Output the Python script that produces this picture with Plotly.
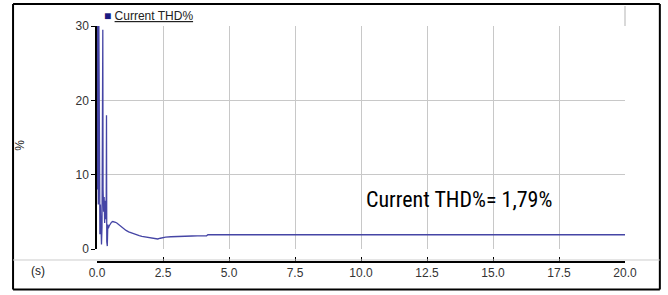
import plotly.graph_objects as go

# Time (s) and Current THD (%)
time_s = [0.00, 0.01, 0.03, 0.05, 0.07, 0.09, 0.11, 0.13, 0.15, 0.17, 0.19, 0.21, 0.22, 0.23,
          0.25, 0.27, 0.29, 0.31, 0.33, 0.35, 0.36, 0.37, 0.39, 0.41, 0.43, 0.46, 0.50, 0.55,
          0.60, 0.65, 0.70, 0.75, 0.82, 0.90, 1.00, 1.10, 1.20, 1.30, 1.40, 1.50, 1.60, 1.70,
          1.80, 1.90, 2.00, 2.10, 2.20, 2.30, 2.40, 2.50, 2.60, 2.80, 3.00, 3.20, 3.40, 3.60,
          3.80, 4.00, 4.15, 4.20, 5.00, 7.50, 10.0, 12.5, 15.0, 17.5, 20.0]
thd_pct = [31.0, 8.0, 31.0, 6.0, 30.5, 9.0, 2.0, 6.0, 1.0, 0.6, 3.0, 12.0, 29.5, 8.0,
           5.0, 7.0, 3.5, 6.5, 4.0, 7.0, 18.0, 1.0, 0.4, 3.3, 2.8, 3.1, 3.4, 3.6,
           3.7, 3.7, 3.6, 3.5, 3.3, 3.0, 2.7, 2.5, 2.3, 2.15, 2.0, 1.9, 1.8, 1.7,
           1.65, 1.55, 1.5, 1.4, 1.35, 1.35, 1.45, 1.55, 1.6, 1.65, 1.7, 1.72, 1.75, 1.75,
           1.76, 1.78, 1.78, 1.92, 1.92, 1.92, 1.92, 1.92, 1.92, 1.92, 1.92]

x_ticks = [0, 2.5, 5, 7.5, 10, 12.5, 15, 17.5, 20]
y_ticks = [0, 10, 20, 30]

fig = go.Figure()
fig.add_trace(go.Scatter(x=time_s, y=thd_pct, mode="lines", name="Current THD%",
                         line=dict(color="#4545a5", width=1.3), showlegend=False))

grid = "#c8c8c8"
fig.update_layout(
    width=668, height=295,
    margin=dict(l=97, r=43, t=26, b=33),
    paper_bgcolor="white", plot_bgcolor="white",
    font=dict(family="Arial, Liberation Sans, sans-serif", size=12, color="#333333"),
    xaxis=dict(range=[0, 20], tickvals=x_ticks, tickformat=".1f",
               showgrid=True, gridcolor=grid, gridwidth=1, zeroline=False,
               showline=True, linecolor="black", linewidth=1.5,
               ticks="inside", ticklen=4, tickcolor="black",
               anchor="free", position=0),
    yaxis=dict(range=[0, 30], tickvals=y_ticks, domain=[0.055, 1],
               showgrid=True, gridcolor=grid, gridwidth=1, zeroline=False,
               showline=True, linecolor="black", linewidth=1.5,
               ticks="outside", ticklen=4, tickcolor="black"),
)

L, R, B, T = -0.159, 1.066, -0.117, 1.093
frame = dict(color="black", width=2)
shapes = [
    # outer frame (four edges)
    dict(type="line", xref="paper", yref="paper", x0=L, x1=R, y0=T, y1=T, line=frame),
    dict(type="line", xref="paper", yref="paper", x0=L, x1=R, y0=B, y1=B, line=frame),
    dict(type="line", xref="paper", yref="paper", x0=L, x1=L, y0=B, y1=T, line=frame),
    dict(type="line", xref="paper", yref="paper", x0=R, x1=R, y0=B, y1=T, line=frame),
    # separator above x axis
    dict(type="line", xref="paper", yref="paper", x0=L, x1=R, y0=0.0085, y1=0.0085,
         line=dict(color="#cccccc", width=1)),
    # legend area right border
    dict(type="line", xref="paper", yref="paper", x0=1.0, x1=1.0, y0=1.0, y1=1.085,
         line=dict(color="#cccccc", width=1.5)),
]
fig.update_layout(shapes=shapes)

fig.add_annotation(xref="paper", yref="paper", x=0.01, y=1.0, xanchor="left", yanchor="bottom",
                   text="<span style='color:#1a1a80'>■</span> <u>Current THD%</u>",
                   showarrow=False, font=dict(size=12, color="#222222",
                                              family="Arial, Liberation Sans, sans-serif"),
                   yshift=1)
fig.add_annotation(xref="paper", yref="paper", x=-0.146, y=0.496, text="%", textangle=-90,
                   xanchor="center", yanchor="middle",
                   showarrow=False, font=dict(size=12, color="#222222"))
fig.add_annotation(xref="paper", yref="paper", x=-0.112, y=-0.038, text="(s)",
                   xanchor="center", yanchor="middle",
                   showarrow=False, font=dict(size=12, color="#222222"))
fig.add_annotation(x=13.7, y=6.6, text="Current THD%= 1,79%", showarrow=False,
                   font=dict(size=22, color="black",
                             family="Liberation Sans Narrow, Roboto Condensed, Arial Narrow, sans-serif"))

fig.write_html("out.html", config={"displayModeBar": False},
               post_script="document.body.style.margin='0';document.body.style.overflow='hidden';")
